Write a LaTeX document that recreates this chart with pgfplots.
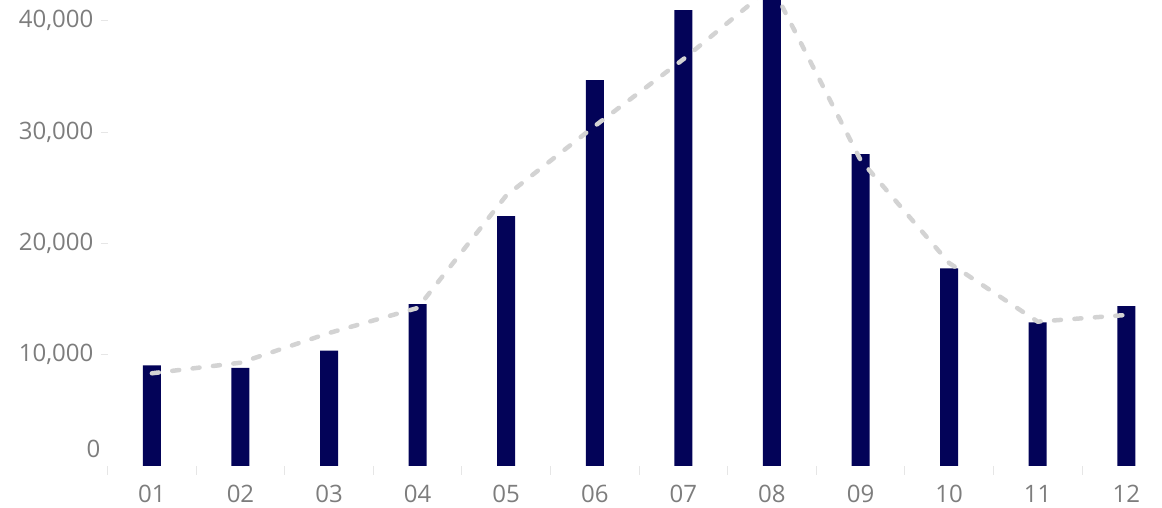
\documentclass[border=0pt]{standalone}
\usepackage{fontspec}
\setmainfont{Open Sans}
\usepackage{pgfplots}
\pgfplotsset{compat=1.18}

\definecolor{barnavy}{RGB}{3,3,88}
\definecolor{trendgray}{RGB}{211,211,211}
\definecolor{labelgray}{RGB}{125,125,125}
\definecolor{tickgray}{RGB}{230,230,230}

\begin{document}
\begin{tikzpicture}
\clip (-107.6pt,-42pt) rectangle (1054.4pt,466pt);
\begin{axis}[
  scale only axis,
  width=1054.4pt, height=466pt,
  xmin=0.5, xmax=12.403,
  ymin=0, ymax=41870,
  axis line style={draw=none},
  xtick={1,...,12},
  xticklabels={01,02,03,04,05,06,07,08,09,10,11,12},
  minor xtick={0.5,1.5,...,12.5},
  xtick pos=lower, ytick pos=left,
  tick align=outside,
  major x tick style={draw=none},
  minor x tick style={tickgray, line width=1pt},
  minor tick length=9pt,
  ytick={10000,20000,30000,40000},
  scaled y ticks=false,
  major tick length=7pt,
  major y tick style={tickgray, line width=1pt},
  extra y ticks={0},
  extra y tick style={yticklabel style={yshift=17pt}, major tick length=0pt},
  /pgf/number format/assume math mode=true,
  /pgf/number format/1000 sep={,},
  ticklabel style={font=\fontsize{24}{24}\selectfont, text=labelgray, inner sep=0pt},
  yticklabel style={anchor=east, xshift=-7pt},
  xticklabel style={anchor=north, yshift=-12pt},
]
\addplot[ybar, bar width=18pt, fill=barnavy, draw=none] coordinates {
  (1,9030) (2,8810) (3,10360) (4,14550) (5,22460) (6,34680)
  (7,40970) (8,44800) (9,28030) (10,17760) (11,12910) (12,14375)
};
\addplot[trendgray, line width=4.5pt, dash pattern=on 7pt off 13.5pt, line cap=round] coordinates {
  (1,8330) (2,9280) (3,11950) (4,14200) (5,24300) (6,30550)
  (7,36550) (8,43100) (9,27490) (10,18240) (11,12970) (12,13570)
};
\end{axis}
\end{tikzpicture}
\end{document}
